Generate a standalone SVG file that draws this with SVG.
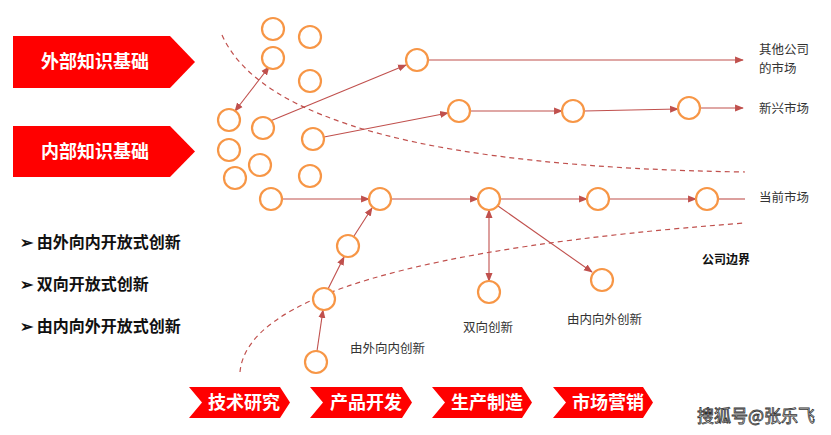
<svg xmlns="http://www.w3.org/2000/svg" width="831" height="435" viewBox="0 0 831 435">
<style>
.c{fill:#fff;stroke:#F79646;stroke-width:2.2}
.l{stroke:#C0504D;stroke-width:1.1;fill:none}
.d{stroke:#C0504D;stroke-width:1.2;fill:none;stroke-dasharray:5 4}
.r{fill:#FF0000}
.w{fill:#fff;font-family:"Noto Sans CJK SC",sans-serif;font-weight:bold;font-size:18px}
.t{fill:#333;font-family:"Noto Sans CJK SC",sans-serif;font-size:12.5px}
.b{fill:#111;font-family:"Noto Sans CJK SC",sans-serif;font-weight:bold;font-size:16px}
</style>
<defs><marker id="a" viewBox="0 0 10 10" refX="9" refY="5" markerWidth="8" markerHeight="8" orient="auto-start-reverse"><path d="M0,1L10,5L0,9z" fill="#C0504D"/></marker></defs>
<rect width="831" height="435" fill="#fff"/>
<path class="d" d="M222,35 Q280,165 745,172"/>
<path class="d" d="M240,372 Q250,260 745,223"/>
<g id="connectors">
<line class="l" x1="263" y1="124" x2="406" y2="65" marker-end="url(#a)"/>
<line class="l" x1="428" y1="60" x2="743" y2="60" marker-end="url(#a)"/>
<line class="l" x1="324" y1="137" x2="448" y2="113" marker-end="url(#a)"/>
<line class="l" x1="470" y1="111" x2="562" y2="111" marker-end="url(#a)"/>
<line class="l" x1="584" y1="111" x2="678" y2="109" marker-end="url(#a)"/>
<line class="l" x1="701" y1="108" x2="743" y2="108" marker-end="url(#a)"/>
<line class="l" x1="269" y1="67" x2="235" y2="111" marker-start="url(#a)" marker-end="url(#a)"/>
<line class="l" x1="282" y1="199" x2="369" y2="199" marker-end="url(#a)"/>
<line class="l" x1="391" y1="199" x2="478" y2="199" marker-end="url(#a)"/>
<line class="l" x1="500" y1="199" x2="587" y2="199" marker-end="url(#a)"/>
<line class="l" x1="609" y1="199" x2="696" y2="199" marker-end="url(#a)"/>
<line class="l" x1="718" y1="199" x2="745" y2="199"/>
<line class="l" x1="489" y1="210" x2="489" y2="281" marker-start="url(#a)" marker-end="url(#a)"/>
<line class="l" x1="498" y1="206" x2="592" y2="272" marker-end="url(#a)"/>
<line class="l" x1="317" y1="351" x2="323" y2="310" marker-end="url(#a)"/>
<line class="l" x1="328" y1="289" x2="344" y2="257" marker-end="url(#a)"/>
<line class="l" x1="354" y1="236" x2="372" y2="208" marker-end="url(#a)"/>
</g>
<g id="nodes">
<circle class="c" cx="273" cy="29" r="11"/><circle class="c" cx="310" cy="37" r="11"/>
<circle class="c" cx="273" cy="58" r="11"/><circle class="c" cx="310" cy="81" r="11"/>
<circle class="c" cx="229" cy="120" r="11"/><circle class="c" cx="263" cy="128" r="11"/>
<circle class="c" cx="313" cy="139" r="11"/><circle class="c" cx="229" cy="150" r="11"/>
<circle class="c" cx="260" cy="165" r="11"/><circle class="c" cx="235" cy="178" r="11"/>
<circle class="c" cx="310" cy="176" r="11"/><circle class="c" cx="271" cy="199" r="11"/>
<circle class="c" cx="417" cy="60" r="11"/>
<circle class="c" cx="459" cy="111" r="11"/><circle class="c" cx="573" cy="111" r="11"/><circle class="c" cx="689" cy="108" r="11"/>
<circle class="c" cx="380" cy="199" r="11"/><circle class="c" cx="489" cy="199" r="11"/><circle class="c" cx="598" cy="199" r="11"/><circle class="c" cx="707" cy="199" r="11"/>
<circle class="c" cx="489" cy="292" r="11"/><circle class="c" cx="602" cy="280" r="11"/>
<circle class="c" cx="316" cy="362" r="11"/><circle class="c" cx="324" cy="299" r="11"/><circle class="c" cx="348" cy="246" r="11"/>
</g>
<g id="left-arrows">
<path class="r" d="M13,36H170L195,62L170,88H13z"/>
<text class="w" x="95" y="68" text-anchor="middle">外部知识基础</text>
<path class="r" d="M13,126H170L195,151.5L170,177H13z"/>
<text class="w" x="95" y="158" text-anchor="middle">内部知识基础</text>
</g>
<g id="chevrons">
<path class="r" d="M189,387H280L290,402.5L280,418H189L202,402.5z"/><text class="w" x="244" y="409" text-anchor="middle">技术研究</text>
<path class="r" d="M310,387H402L412,402.5L402,418H310L323,402.5z"/><text class="w" x="366" y="409" text-anchor="middle">产品开发</text>
<path class="r" d="M432,387H522L532,402.5L522,418H432L445,402.5z"/><text class="w" x="487" y="409" text-anchor="middle">生产制造</text>
<path class="r" d="M553,387H643L653,402.5L643,418H553L566,402.5z"/><text class="w" x="608" y="409" text-anchor="middle">市场营销</text>
</g>
<text class="t" x="759" y="54">其他公司</text>
<text class="t" x="759" y="73">的市场</text>
<text class="t" x="759" y="113">新兴市场</text>
<text class="t" x="759" y="202">当前市场</text>
<text x="702" y="264" font-family="Noto Sans CJK SC,sans-serif" font-weight="bold" font-size="12" fill="#111">公司边界</text>
<text class="t" x="350" y="353">由外向内创新</text>
<text class="t" x="463" y="332">双向创新</text>
<text class="t" x="567" y="324">由内向外创新</text>
<text class="b" x="20" y="248">➢ 由外向内开放式创新</text>
<text class="b" x="20" y="290">➢ 双向开放式创新</text>
<text class="b" x="20" y="332">➢ 由内向外开放式创新</text>
<text x="697" y="422" font-family="Noto Sans CJK SC,sans-serif" font-size="17" fill="#fff" stroke="#333" stroke-width="0.8">搜狐号@张乐飞</text>
</svg>
